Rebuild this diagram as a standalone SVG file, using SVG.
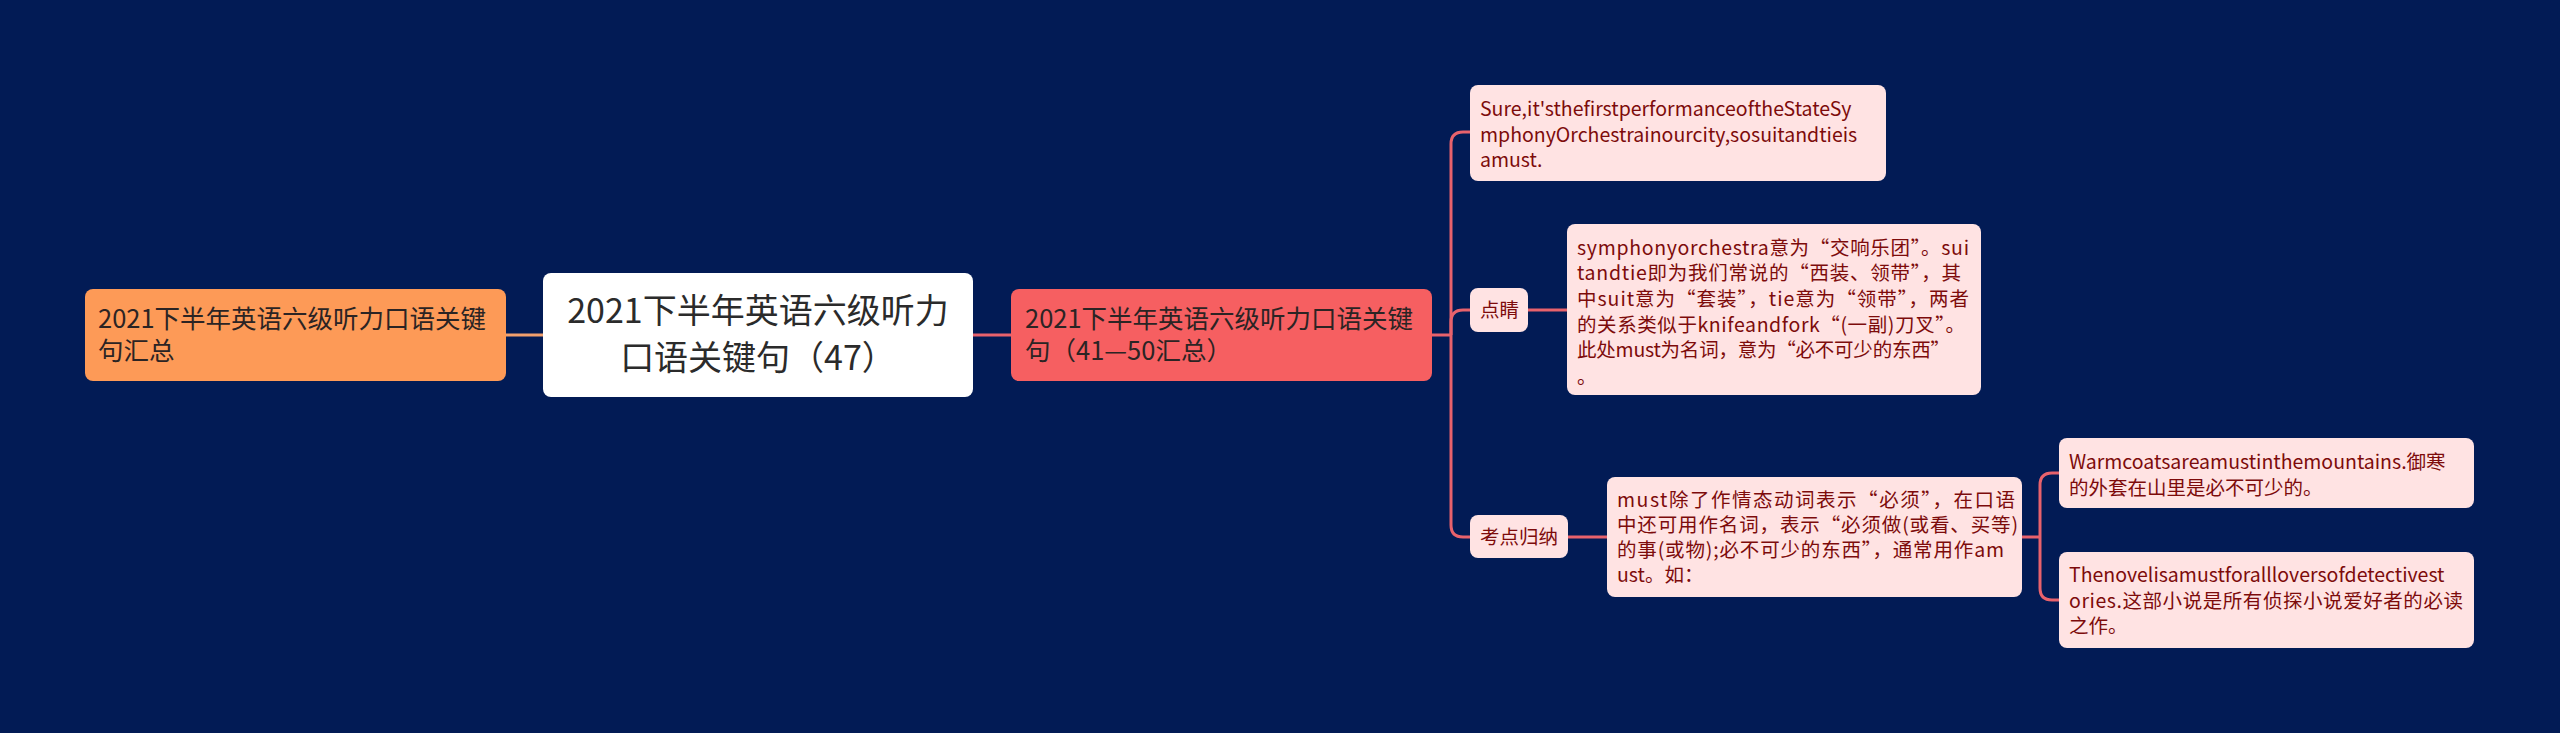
<svg xmlns="http://www.w3.org/2000/svg" width="2560" height="733" viewBox="0 0 2560 733">
<style>
text{font-family:"Noto Sans CJK SC","Noto Sans",sans-serif;}
.t26{font-size:25.5px;fill:#2b2424;}
.t34{font-size:34px;fill:#2b2b2b;text-anchor:middle;}
.t20{font-size:19.5px;fill:#7d0b0b;}
.pink{fill:#ffe3e3;}
.c1{fill:none;stroke:#f2a06d;stroke-width:3;}
.c2{fill:none;stroke:#e8626c;stroke-width:3;}
</style>
<rect x="0" y="0" width="2560" height="733" fill="#021b55"/>
<g id="connectors">
<path class="c1" d="M506,335 H543"/>
<path class="c2" d="M973,335 H1011"/>
<path class="c2" d="M1432,335 H1451"/>
<path class="c2" d="M1451,335 V144 Q1451,132 1463,132 H1470"/>
<path class="c2" d="M1451,335 V322 Q1451,310 1463,310 H1470"/>
<path class="c2" d="M1451,335 V525 Q1451,537 1463,537 H1470"/>
<path class="c2" d="M1528,310 H1567"/>
<path class="c2" d="M1568,537 H1607"/>
<path class="c2" d="M2022,537 H2040"/>
<path class="c2" d="M2040,537 V485 Q2040,473 2052,473 H2059"/>
<path class="c2" d="M2040,537 V588 Q2040,600 2052,600 H2059"/>
</g>
<g id="node-left">
<rect x="85" y="289" width="421" height="92" rx="8" fill="#fd9a57"/>
<text class="t26" x="98" y="328">2021下半年英语六级听力口语关键</text>
<text class="t26" x="98" y="360">句汇总</text>
</g>
<g id="node-center">
<rect x="543" y="273" width="430" height="124" rx="8" fill="#ffffff"/>
<text class="t34" x="758" y="323">2021下半年英语六级听力</text>
<text class="t34" x="758" y="370">口语关键句（47）</text>
</g>
<g id="node-red">
<rect x="1011" y="289" width="421" height="92" rx="8" fill="#f65f61"/>
<text class="t26" x="1025" y="328">2021下半年英语六级听力口语关键</text>
<text class="t26" x="1025" y="360">句（41—50汇总）</text>
</g>
<g id="node-sure">
<rect class="pink" x="1470" y="85" width="416" height="96" rx="8"/>
<text class="t20" x="1480" y="116">Sure,it'sthefirstperformanceoftheStateSy</text>
<text class="t20" x="1480" y="142">mphonyOrchestrainourcity,sosuitandtieis</text>
<text class="t20" x="1480" y="167">amust.</text>
</g>
<g id="node-dianjing">
<rect class="pink" x="1470" y="288" width="58" height="44" rx="8"/>
<text class="t20" x="1480" y="317">点睛</text>
</g>
<g id="node-dianjing-text">
<rect class="pink" x="1567" y="224" width="414" height="171" rx="8"/>
<text class="t20" x="1577" y="255" textLength="392" lengthAdjust="spacing">symphonyorchestra意为“交响乐团”。sui</text>
<text class="t20" x="1577" y="280" textLength="384" lengthAdjust="spacing">tandtie即为我们常说的“西装、领带”，其</text>
<text class="t20" x="1577" y="306" textLength="392" lengthAdjust="spacing">中suit意为“套装”，tie意为“领带”，两者</text>
<text class="t20" x="1577" y="332" textLength="388" lengthAdjust="spacing">的关系类似于knifeandfork“(一副)刀叉”。</text>
<text class="t20" x="1577" y="357" textLength="373" lengthAdjust="spacing">此处must为名词，意为“必不可少的东西”</text>
<text class="t20" x="1577" y="384">。</text>
</g>
<g id="node-kaodian">
<rect class="pink" x="1470" y="515" width="98" height="43" rx="8"/>
<text class="t20" x="1480" y="544">考点归纳</text>
</g>
<g id="node-must">
<rect class="pink" x="1607" y="477" width="415" height="120" rx="8"/>
<text class="t20" x="1617" y="507" textLength="398" lengthAdjust="spacing">must除了作情态动词表示“必须”，在口语</text>
<text class="t20" x="1617" y="532" textLength="401" lengthAdjust="spacing">中还可用作名词，表示“必须做(或看、买等)</text>
<text class="t20" x="1617" y="557" textLength="387" lengthAdjust="spacing">的事(或物);必不可少的东西”，通常用作am</text>
<text class="t20" x="1617" y="582">ust。如：</text>
</g>
<g id="node-warm">
<rect class="pink" x="2059" y="438" width="415" height="70" rx="8"/>
<text class="t20" x="2069" y="469">Warmcoatsareamustinthemountains.御寒</text>
<text class="t20" x="2069" y="495">的外套在山里是必不可少的。</text>
</g>
<g id="node-novel">
<rect class="pink" x="2059" y="552" width="415" height="96" rx="8"/>
<text class="t20" x="2069" y="582">Thenovelisamustforallloversofdetectivest</text>
<text class="t20" x="2069" y="608" textLength="394" lengthAdjust="spacing">ories.这部小说是所有侦探小说爱好者的必读</text>
<text class="t20" x="2069" y="633">之作。</text>
</g>
</svg>
